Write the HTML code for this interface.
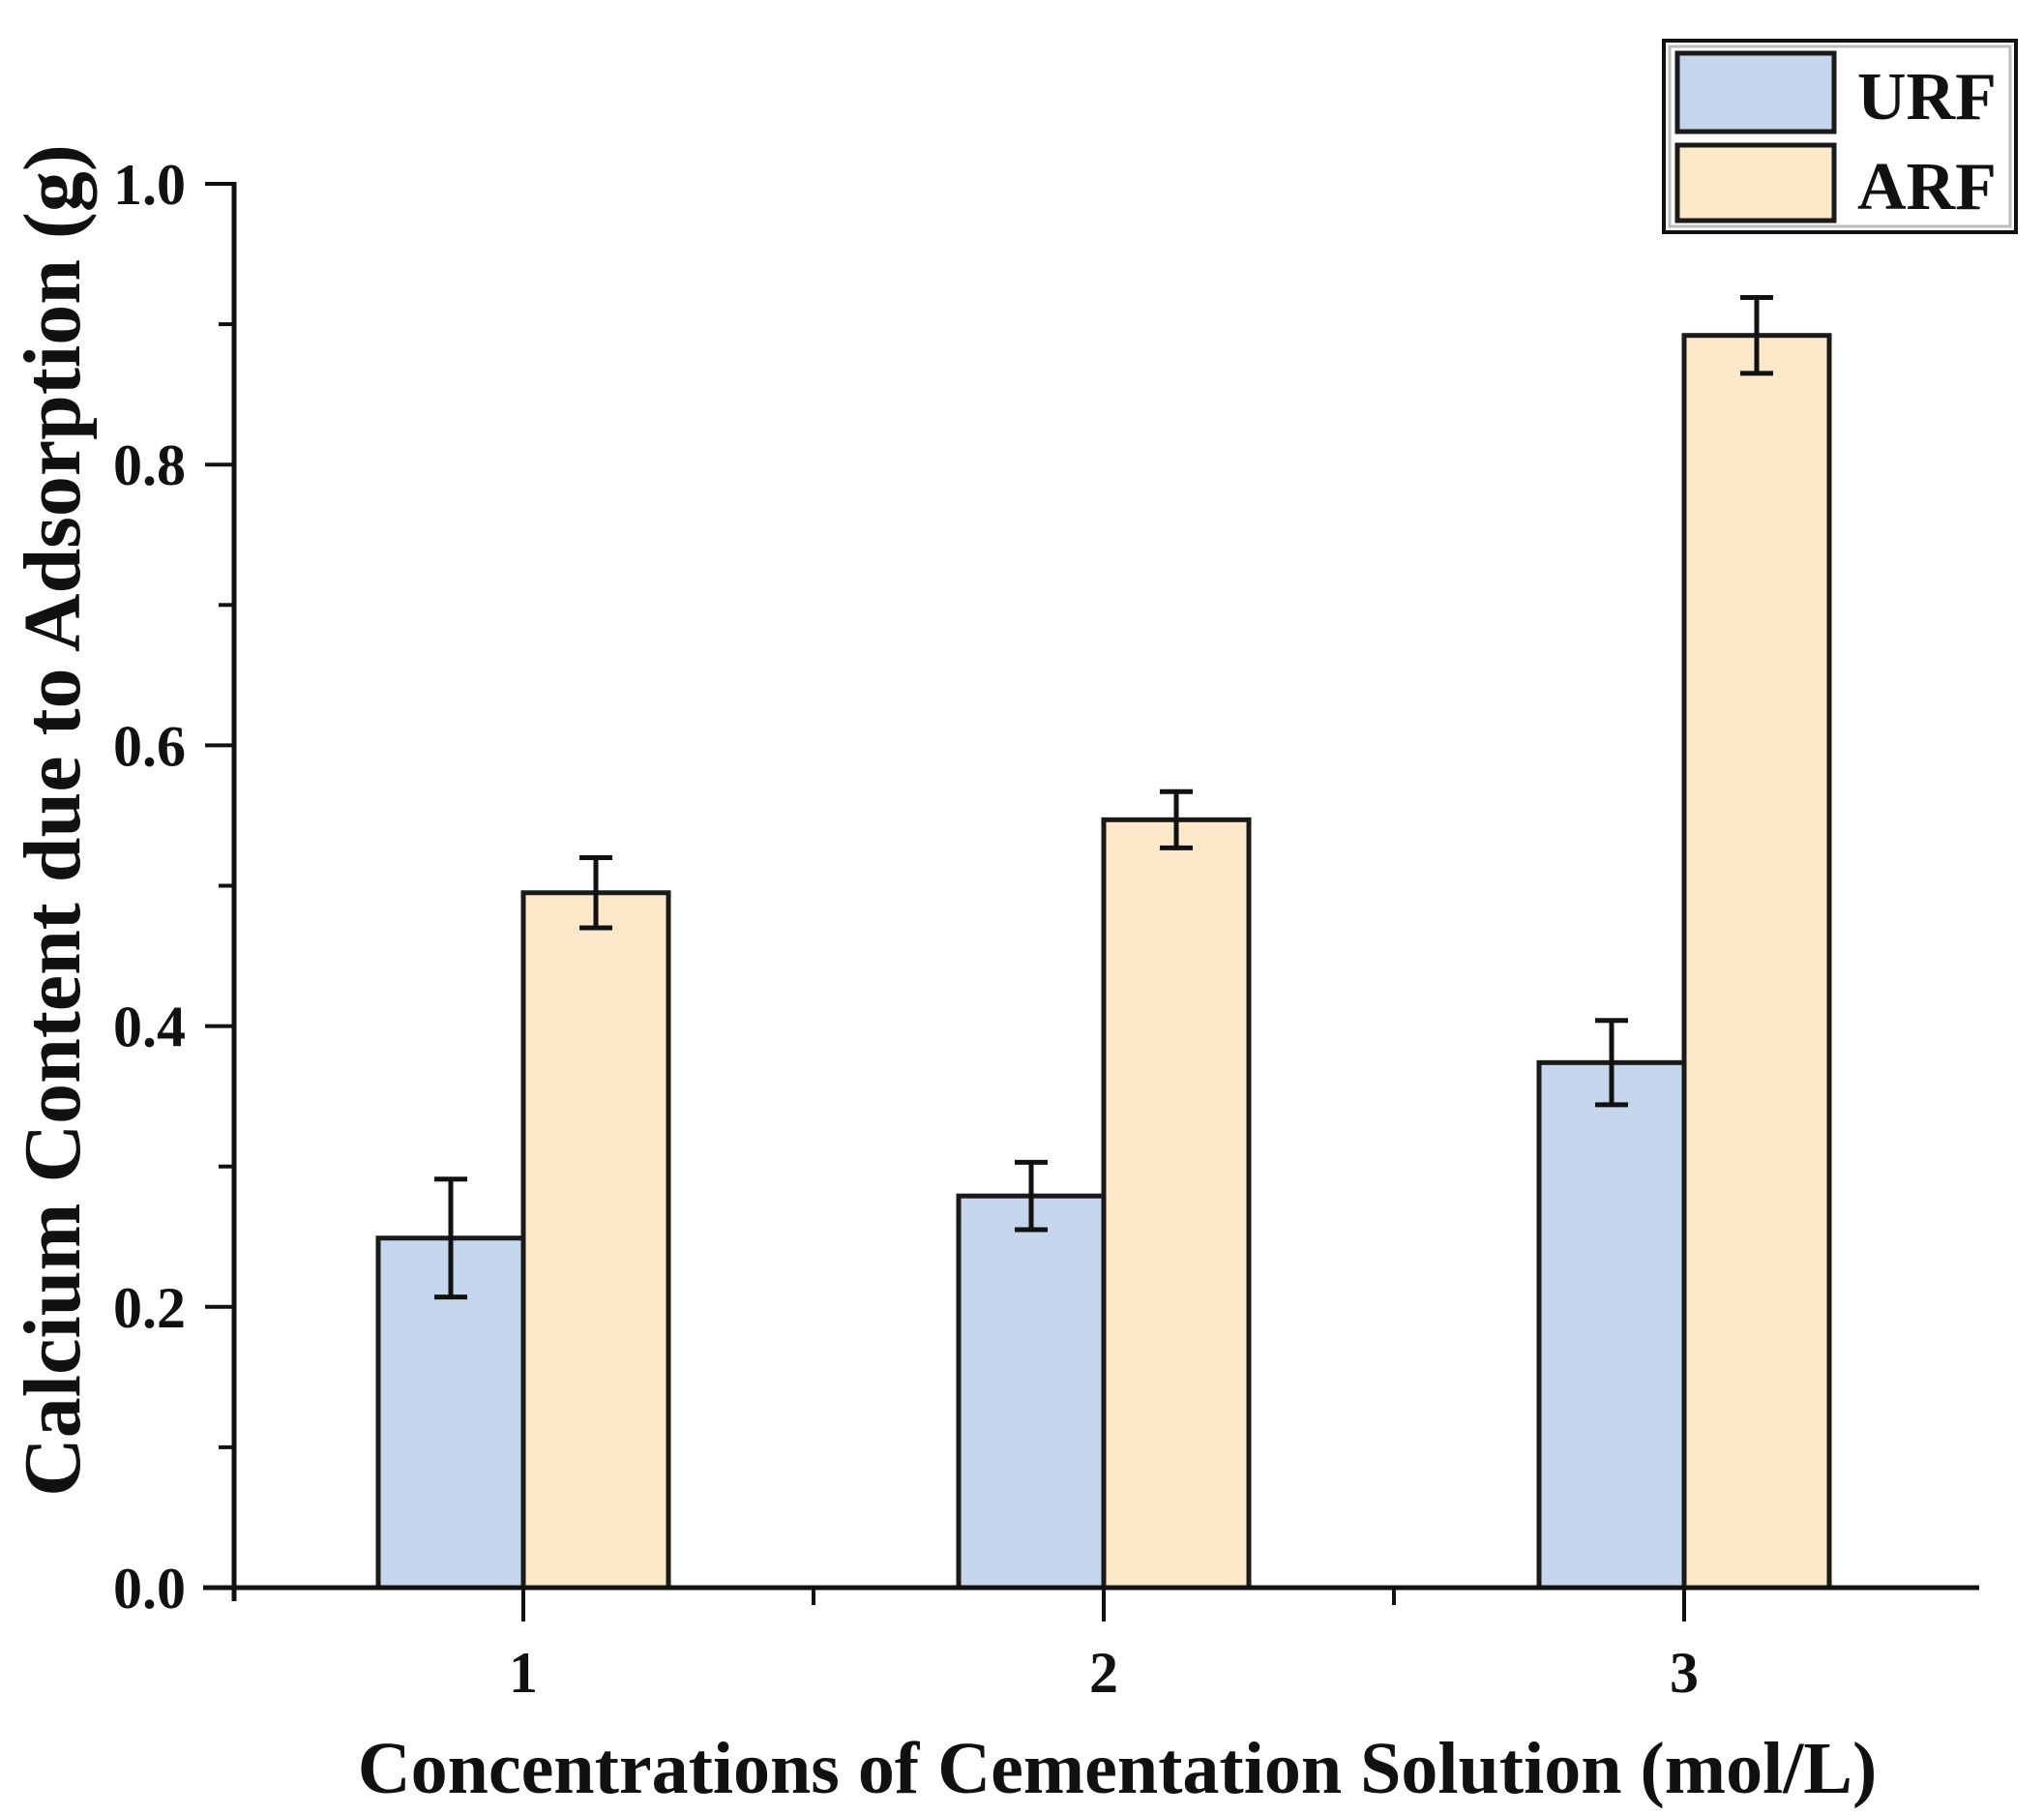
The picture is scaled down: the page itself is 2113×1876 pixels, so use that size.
<!DOCTYPE html>
<html><head><meta charset="utf-8"><style>
html,body{margin:0;padding:0;background:#fff;}
svg{display:block;}
text{font-family:"Liberation Serif",serif;font-weight:bold;fill:#111;}
</style></head><body>
<svg id="chart" width="2113" height="1876" viewBox="0 0 2113 1876" xmlns="http://www.w3.org/2000/svg">
<g id="bars"></g>
<g id="axes"></g>
<text transform="translate(82,848) rotate(-90)" text-anchor="middle" font-size="84">Calcium Content due to Adsorption (g)</text>
<text x="1155" y="1853" text-anchor="middle" font-size="76">Concentrations of Cementation Solution (mol/L)</text>
<g>
<rect x="1720" y="42" width="364" height="198" fill="#fff" stroke="#111" stroke-width="4"/>
<rect x="1726" y="48" width="352" height="186" fill="none" stroke="#bbb" stroke-width="3"/>
<rect x="1734" y="55" width="162" height="81" fill="#c5d6ec" stroke="#1a1a1a" stroke-width="5"/>
<text x="1920" y="123" font-size="70">URF</text>
<rect x="1734" y="150" width="162" height="78" fill="#fde9c9" stroke="#1a1a1a" stroke-width="5"/>
<text x="1920" y="216" font-size="70">ARF</text>
</g>
</svg>
<script>
const categories = ["1","2","3"];
const urfValues = [0.249, 0.279, 0.374];
const urfErrors = [0.042, 0.024, 0.030];
const arfValues = [0.495, 0.547, 0.892];
const arfErrors = [0.025, 0.020, 0.027];
const yTickValues = [0, 0.2, 0.4, 0.6, 0.8, 1.0];
const yTickLabels = ["0.0","0.2","0.4","0.6","0.8","1.0"];

const NS = "http://www.w3.org/2000/svg";
const y0 = 1641, yPerUnit = 1451;
function yScale(v){ return y0 - v*yPerUnit; }
function xScale(i){ return 541 + i*600; }
const barW = 150;
function mk(tag, attrs, parent){
  const e = document.createElementNS(NS, tag);
  for (const k in attrs) e.setAttribute(k, attrs[k]);
  parent.appendChild(e); return e;
}
const bars = document.getElementById('bars');
const axes = document.getElementById('axes');
function drawSeries(vals, errs, offset, fill, name){
  vals.forEach((v,i)=>{
    const cx = xScale(i) + offset;
    const r = mk('rect',{x:cx-barW/2,y:yScale(v),width:barW,height:y0-yScale(v),fill:fill,stroke:'#1a1a1a','stroke-width':5},bars);
    
    
    const g = mk('g',{stroke:'#111','stroke-width':5},bars);
    
    
    const yt = yScale(v+errs[i]), yb = yScale(v-errs[i]);
    mk('line',{x1:cx,x2:cx,y1:yt,y2:yb},g);
    mk('line',{x1:cx-17,x2:cx+17,y1:yt,y2:yt},g);
    mk('line',{x1:cx-17,x2:cx+17,y1:yb,y2:yb},g);
  });
}
drawSeries(urfValues, urfErrors, -barW/2, '#c5d6ec', 'urf');
drawSeries(arfValues, arfErrors, barW/2, '#fde9c9', 'arf');

const ya = mk('line',{x1:242,x2:242,y1:yScale(1.0)-2,y2:y0+14,stroke:'#111','stroke-width':5},axes);


const xa = mk('line',{x1:210,x2:2046,y1:y0,y2:y0,stroke:'#111','stroke-width':5},axes);


yTickValues.forEach((v,i)=>{
  const y = yScale(v);
  const t = mk('line',{x1:212,x2:242,y1:y,y2:y,stroke:'#111','stroke-width':4},axes);
  
  
  const l = mk('text',{x:192,y:y+21,'text-anchor':'end','font-size':60},axes);
  l.textContent = yTickLabels[i];
  
  
  if (i < yTickValues.length-1){
    const ym = yScale((v+yTickValues[i+1])/2);
    const m = mk('line',{x1:226,x2:242,y1:ym,y2:ym,stroke:'#111','stroke-width':4},axes);
    
    
  }
});
categories.forEach((c,i)=>{
  const x = xScale(i);
  const t = mk('line',{x1:x,x2:x,y1:y0,y2:y0+35,stroke:'#111','stroke-width':4},axes);
  
  
  const l = mk('text',{x:x,y:y0+108,'text-anchor':'middle','font-size':60},axes);
  l.textContent = c;
  
  
  if (i < categories.length-1){
    const xm = xScale(i+0.5);
    const m = mk('line',{x1:xm,x2:xm,y1:y0,y2:y0+18,stroke:'#111','stroke-width':4},axes);
    
    
  }
});
</script>
</body></html>
